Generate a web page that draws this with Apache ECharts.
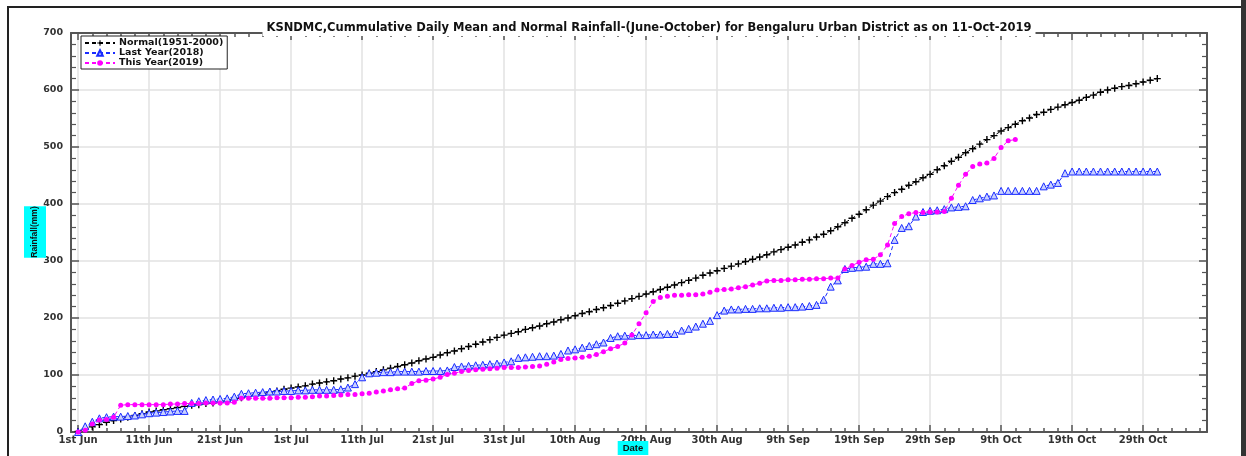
<!DOCTYPE html>
<html><head><meta charset="utf-8">
<script src="https://cdn.jsdelivr.net/npm/echarts@6/dist/echarts.min.js"></script>
<style>html,body{margin:0;padding:0;background:#fff}#c{width:1246px;height:456px}</style>
</head><body><div id="c"></div>
<script>
// Day index 0 = 31st May (axis start), 1 = 1st Jun ... 153 = 31st Oct, axis ends at 160
const tickLabels = ["1st Jun","11th Jun","21st Jun","1st Jul","11th Jul","21st Jul","31st Jul","10th Aug","20th Aug","30th Aug","9th Sep","19th Sep","29th Sep","9th Oct","19th Oct","29th Oct"];
const seriesNames = ["Normal(1951-2000)","Last Year(2018)","This Year(2019)"];
// Normal (1951-2000), 1st Jun .. 31st Oct
const normal = [1,5,9,13,17,20,23,26,29,32,35,37,39,41,43,45,47,48,50,51,53,55,58,60,63,65,67,70,72,75,77,79,81,84,86,88,90,93,95,98,100,103,106,109,112,115,118,121,125,128,131,135,139,142,146,150,154,158,162,166,170,173,176,180,183,186,190,193,197,200,204,208,211,215,218,222,226,230,234,238,242,246,250,254,258,262,266,270,275,279,283,287,291,295,299,303,307,311,316,320,324,328,333,337,342,347,353,360,367,375,382,390,398,405,413,420,426,433,439,446,452,460,467,475,482,490,497,505,513,520,528,534,540,546,551,557,561,566,570,574,578,582,587,591,596,600,603,606,608,611,614,617,620];
// Last Year (2018), 1st Jun .. 31st Oct
const lastYear = [0,10,18,24,26,27,27,28,29,31,33,34,35,36,37,37,51,54,56,57,58,59,62,67,68,69,70,71,71,72,72,73,73,74,74,74,74,75,78,84,96,103,104,105,105,106,106,106,106,107,107,107,108,114,115,116,117,118,119,120,122,124,130,131,132,133,133,134,137,143,145,148,151,154,157,165,168,169,169,170,170,171,171,172,172,178,181,185,190,195,205,213,215,215,216,216,217,217,218,218,219,219,220,221,223,232,255,266,286,288,289,290,295,295,296,337,358,361,378,386,388,389,391,394,395,396,407,410,413,415,423,423,423,423,423,423,431,434,437,454,457,457,457,457,457,457,457,457,457,457,457,457,457];
// This Year (2019), 1st Jun .. 11th Oct
const thisYear = [0,3,14,21,22,26,47,48,48,48,48,48,48,49,49,50,50,50,51,51,51,51,52,59,59,59,59,59,60,60,60,61,61,62,63,63,64,65,66,66,67,68,70,72,74,76,77,85,90,91,93,96,101,103,106,108,109,110,111,112,113,113,113,114,115,116,119,123,127,129,130,131,133,136,141,146,150,156,170,190,209,229,236,238,240,240,241,241,242,245,249,250,251,253,255,258,261,265,266,266,267,267,268,268,269,269,270,270,286,292,298,302,303,311,328,366,378,383,385,385,386,386,387,410,433,452,466,470,472,480,499,511,513];

const N = 161;
const cats = [];
for (let i = 0; i < N; i++) {
  cats.push((i - 1) % 10 === 0 && (i - 1) / 10 < tickLabels.length ? tickLabels[(i - 1) / 10] : '');
}
const pad = arr => [null].concat(arr);

const WIDE = '"DejaVu Sans", Verdana, sans-serif';
const NARROW = '"Liberation Sans", Arial, sans-serif';
const axisLineStyle = {color: '#555', width: 2};
const isMajor = i => (i - 1) % 10 === 0 && i >= 1 && i <= 151;
const isMinor = i => (i - 1) % 2 === 0 && i >= 1;

function xAx(pos, major) {
  return {
    type: 'category', data: cats, boundaryGap: false, position: pos, gridIndex: 0,
    axisLine: {show: major, onZero: false, lineStyle: axisLineStyle},
    axisTick: {show: true, inside: true, length: major ? 7 : 4, interval: major ? (i => isMajor(i)) : (i => isMinor(i)), lineStyle: {color: '#555', width: 1.5}},
    axisLabel: {show: major && pos === 'bottom', interval: (i => isMajor(i)), margin: 3, fontSize: 10, fontWeight: 'bold', color: '#333', fontFamily: WIDE},
    splitLine: {show: major && pos === 'bottom', interval: (i => isMajor(i)), lineStyle: {color: '#e2e2e2', width: 1.5}}
  };
}
function yAx(pos) {
  return {
    type: 'value', min: 0, max: 700, interval: 100, position: pos,
    axisLine: {show: true, lineStyle: axisLineStyle},
    axisTick: {show: true, inside: true, length: 8, lineStyle: {color: '#555', width: 1.5}},
    minorTick: {show: true, splitNumber: 5, length: 5, lineStyle: {color: '#555', width: 1.2}},
    axisLabel: {show: pos === 'left', margin: 8, fontSize: 9.5, fontWeight: 'bold', color: '#333', fontFamily: WIDE},
    splitLine: {show: pos === 'left', lineStyle: {color: '#e2e2e2', width: 1.5}}
  };
}

const chart = echarts.init(document.getElementById('c'), null, {renderer: 'canvas'});
chart.setOption({
  animation: false,
  backgroundColor: '#fff',
  title: {
    text: 'KSNDMC,Cummulative Daily Mean and Normal Rainfall-(June-October) for Bengaluru Urban District as on 11-Oct-2019',
    left: 645, textAlign: 'center', top: 20, padding: [2, 4, 2, 4], backgroundColor: '#fff',
    textStyle: {fontSize: 11.5, fontWeight: 'bold', color: '#111', fontFamily: WIDE}
  },
  grid: {left: 71, right: 39, top: 33, bottom: 24, containLabel: false},
  legend: {
    orient: 'vertical', left: 81, top: 36, itemGap: 0, itemWidth: 30, itemHeight: 7,
    padding: [2, 4, 1, 3], borderColor: '#222', borderWidth: 1, backgroundColor: '#fff',
    textStyle: {fontSize: 9.5, lineHeight: 9.5, fontWeight: 'bold', color: '#111', fontFamily: WIDE, padding: [0, 0, 0, -1]},
    data: seriesNames
  },
  xAxis: [xAx('bottom', true), xAx('bottom', false), xAx('top', true), xAx('top', false)],
  yAxis: [yAx('left'), yAx('right')],
  graphic: [
    {type: 'rect', shape: {x: 8, y: 7, width: 1234, height: 470}, style: {fill: 'none', stroke: '#222', lineWidth: 2}, z: 100},
    {type: 'rect', shape: {x: 1241, y: 0, width: 5, height: 456}, style: {fill: '#333'}, z: 100},
    {type: 'text', x: 35, y: 232, rotation: Math.PI / 2, z: 100,
     style: {text: 'Rainfall(mm)', fill: '#111', font: 'bold 8.5px ' + NARROW, align: 'center', verticalAlign: 'middle', backgroundColor: '#00ffff', padding: [7, 0, 6, 0]}},
    {type: 'text', x: 633, y: 448, z: 100,
     style: {text: 'Date', fill: '#111', font: 'bold 9.5px ' + NARROW, align: 'center', verticalAlign: 'middle', backgroundColor: '#00ffff', padding: [2, 5, 2, 5]}}
  ],
  series: [
    {name: seriesNames[0], type: 'line', data: pad(normal), showAllSymbol: true,
     symbol: 'path://M4,0h2v4h4v2h-4v4h-2v-4h-4v-2h4z', symbolSize: 7,
     itemStyle: {color: '#000'}, lineStyle: {color: '#000', width: 1, type: [4, 3]}, z: 3},
    {name: seriesNames[1], type: 'line', data: pad(lastYear), showAllSymbol: true,
     symbol: 'triangle', symbolSize: 7,
     itemStyle: {color: '#c8d0ff', borderColor: '#1a2cff', borderWidth: 1}, lineStyle: {color: '#1a2cff', width: 1, type: [4, 3]}, z: 4},
    {name: seriesNames[2], type: 'line', data: pad(thisYear), showAllSymbol: true,
     symbol: 'circle', symbolSize: 5,
     itemStyle: {color: '#ff00ff'}, lineStyle: {color: '#ff00ff', width: 1, type: [4, 3]}, z: 5}
  ]
});
</script></body></html>
